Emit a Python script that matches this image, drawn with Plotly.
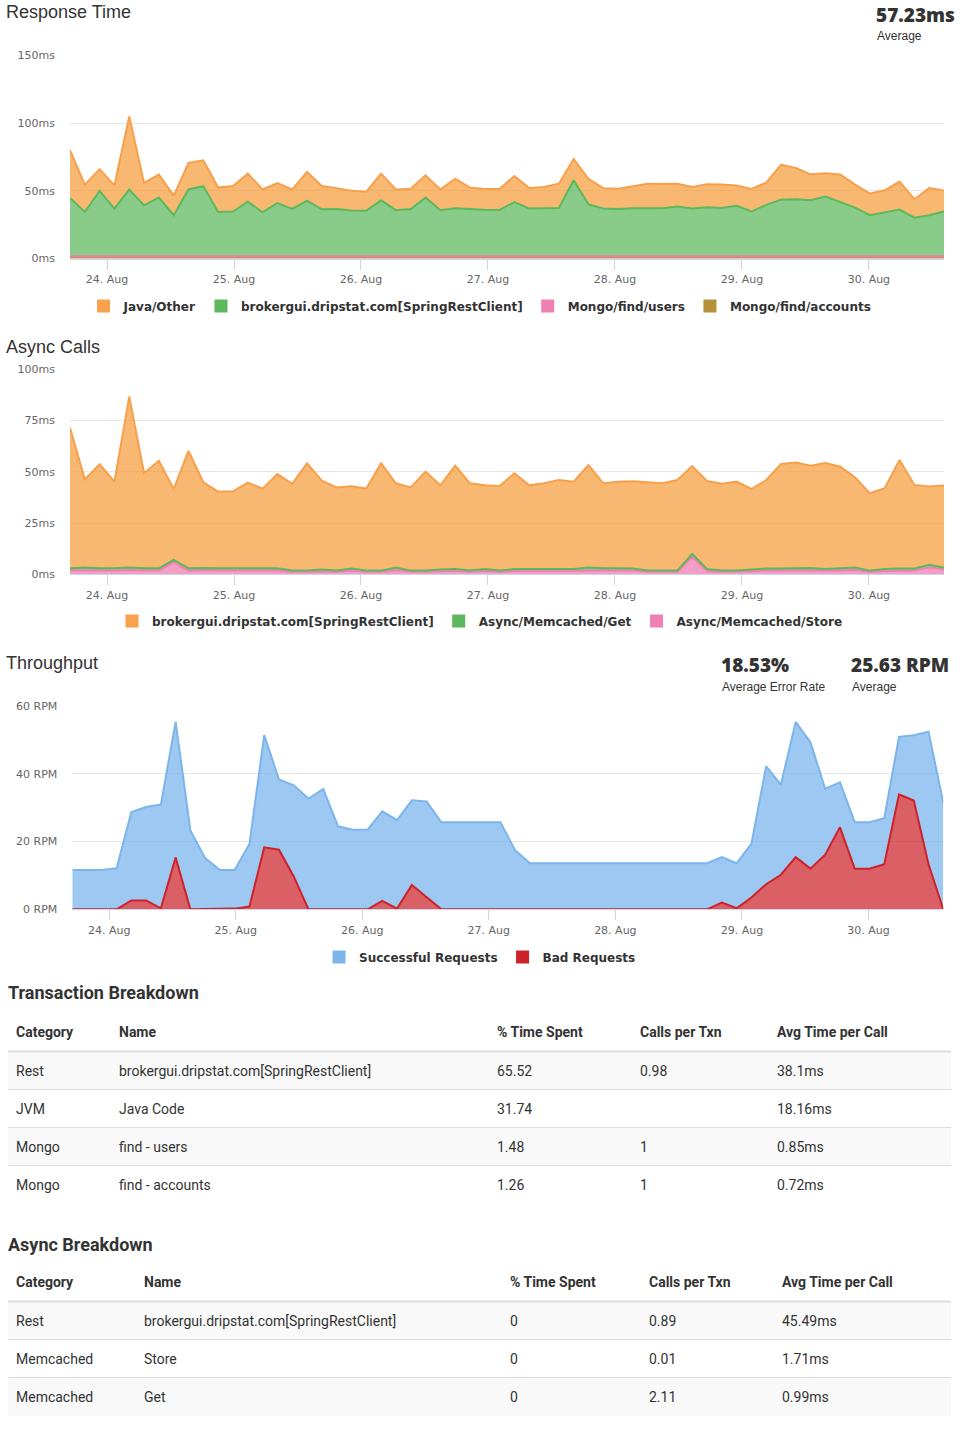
import pandas as pd
import plotly.graph_objects as go

# ---------------- data ----------------
times = pd.date_range("2017-08-23 17:00", periods=60, freq="168min")

# Response Time (ms) - stacked series
rt_java_other = [35.2, 20.2, 16.0, 17.1, 54.0, 16.5, 17.0, 14.5, 19.6, 19.1, 18.0, 18.9, 20.7, 16.8, 14.8,
                 14.4, 21.2, 17.2, 15.4, 14.6, 14.2, 19.7, 15.3, 15.0, 16.5, 15.3, 21.9, 16.0, 15.3, 15.5,
                 19.4, 15.1, 16.0, 17.9, 15.7, 18.8, 15.1, 15.0, 16.3, 18.2, 17.9, 16.9, 16.0, 16.9, 17.2,
                 15.1, 16.7, 16.4, 25.8, 23.1, 19.2, 17.3, 20.2, 17.0, 16.0, 16.5, 20.7, 13.6, 20.0, 15.5]
rt_broker = [43.2, 32.8, 48.4, 35.3, 49.4, 37.7, 43.4, 30.4, 49.4, 51.8, 32.8, 33.1, 40.4, 32.6, 39.4,
             35.0, 41.2, 34.8, 35.0, 33.8, 33.6, 41.4, 34.1, 35.0, 43.4, 34.1, 35.5, 34.8, 34.5, 34.3,
             40.0, 35.3, 35.3, 35.8, 56.2, 38.4, 35.3, 35.0, 35.5, 35.5, 35.5, 36.8, 35.3, 36.3, 35.8,
             37.3, 33.1, 38.0, 41.9, 42.2, 41.4, 44.1, 40.2, 36.0, 30.4, 32.3, 34.5, 28.6, 30.4, 33.1]
rt_mongo_users = [0.85] * 60
rt_mongo_accounts = [0.75] * 60

# Async Calls (ms) - stacked series
ac_broker = [68.6, 43.0, 50.8, 42.3, 83.4, 46.4, 52.5, 34.6, 57.3, 41.8, 37.4, 37.6, 41.8, 38.9, 46.0,
             42.3, 52.3, 43.3, 40.6, 40.1, 40.0, 52.3, 41.1, 40.6, 48.3, 41.0, 50.4, 42.6, 40.8, 41.3,
             46.7, 40.8, 41.8, 43.4, 42.6, 50.0, 41.5, 42.3, 42.6, 43.2, 42.6, 44.2, 42.9, 42.9, 42.4,
             43.4, 39.3, 43.2, 51.0, 51.4, 49.9, 51.7, 49.7, 43.9, 37.7, 39.4, 53.0, 40.8, 38.2, 40.0]
ac_get = [0.9, 1.2, 1.0, 1.0, 1.2, 1.0, 1.0, 1.1, 1.0, 1.1, 1.0, 1.0, 1.0, 1.0, 1.0,
          0.6, 0.6, 0.9, 0.6, 1.0, 0.6, 0.6, 1.2, 0.6, 0.6, 0.9, 0.9, 0.6, 0.9, 0.6,
          1.0, 1.0, 0.9, 0.9, 0.9, 1.2, 1.0, 1.0, 1.0, 0.6, 0.6, 0.6, 1.3, 1.0, 0.6,
          0.6, 0.8, 1.0, 1.0, 1.1, 1.1, 0.9, 1.0, 1.2, 0.6, 1.0, 1.0, 1.0, 1.2, 1.0]
ac_store = [2.0, 2.1, 1.9, 1.9, 2.1, 1.9, 1.9, 5.9, 1.9, 2.0, 1.9, 1.9, 1.9, 1.9, 1.9,
            1.2, 1.2, 1.5, 1.2, 1.8, 1.2, 1.2, 2.1, 1.2, 1.2, 1.5, 1.7, 1.2, 1.7, 1.2,
            1.6, 1.6, 1.7, 1.7, 1.7, 2.1, 1.9, 1.9, 1.8, 1.2, 1.2, 1.2, 8.6, 1.6, 1.2,
            1.2, 1.5, 1.8, 1.8, 2.0, 2.0, 1.7, 1.8, 2.1, 1.2, 1.6, 1.8, 1.8, 3.4, 2.3]

# Throughput (RPM) - stacked series
tp_successful = [11.6, 11.6, 11.6, 12.1, 26.1, 27.6, 30.6, 40.0, 23.3, 15.1, 11.6, 11.4, 18.5, 33.1, 20.7,
                 26.9, 32.7, 35.5, 24.5, 23.5, 23.5, 26.4, 26.1, 25.0, 28.3, 25.7, 25.7, 25.7, 25.7, 25.7,
                 17.4, 13.6, 13.6, 13.6, 13.6, 13.6, 13.6, 13.6, 13.6, 13.6, 13.6, 13.6, 13.6, 13.6, 13.4,
                 13.3, 15.8, 34.8, 26.6, 39.9, 37.3, 19.5, 13.3, 13.7, 13.7, 13.6, 17.0, 19.3, 39.1, 31.4]
tp_bad = [0, 0, 0, 0, 2.6, 2.6, 0.3, 15.3, 0, 0, 0, 0.2, 0.8, 18.3, 17.6,
          9.7, 0, 0, 0, 0, 0, 2.5, 0.2, 7.2, 3.5, 0, 0, 0, 0, 0,
          0, 0, 0, 0, 0, 0, 0, 0, 0, 0, 0, 0, 0, 0, 2.0,
          0.3, 3.5, 7.4, 10.2, 15.4, 12.0, 16.1, 24.2, 12.0, 12.0, 13.3, 33.9, 32.1, 13.3, 0]

# Tables
table_headers = ["Category", "Name", "% Time Spent", "Calls per Txn", "Avg Time per Call"]
tx_category = ["Rest", "JVM", "Mongo", "Mongo"]
tx_name = ["brokergui.dripstat.com[SpringRestClient]", "Java Code", "find - users", "find - accounts"]
tx_pct = ["65.52", "31.74", "1.48", "1.26"]
tx_calls = ["0.98", "", "1", "1"]
tx_avg = ["38.1ms", "18.16ms", "0.85ms", "0.72ms"]

as_category = ["Rest", "Memcached", "Memcached"]
as_name = ["brokergui.dripstat.com[SpringRestClient]", "Store", "Get"]
as_pct = ["0", "0", "0"]
as_calls = ["0.89", "0.01", "2.11"]
as_avg = ["45.49ms", "1.71ms", "0.99ms"]

# ---------------- layout helpers ----------------
W, H = 960, 1430


def X(px):
    return px / W


def Y(py):
    return 1 - py / H


TXT = "#333333"
TICK = "#666666"
GRID = "#e6e6e6"
AXIS = "#ccd6eb"

fig = go.Figure()


def area(x, y, color, fill, xa, ya, group, leg):
    fig.add_trace(go.Scatter(x=x, y=y, mode="lines", stackgroup=group,
                             line=dict(color=color, width=2), fillcolor=fill,
                             xaxis=xa, yaxis=ya, legend=leg, showlegend=False, hoverinfo="skip"))


def legend_item(name, color, xa, ya, leg, rank):
    fig.add_trace(go.Scatter(x=[None], y=[None], mode="markers", name=name,
                             marker=dict(symbol="square", size=13, color=color),
                             xaxis=xa, yaxis=ya, legend=leg, legendrank=rank, showlegend=True))


ORANGE_L, ORANGE_F = "#f7a04c", "rgba(246,156,60,0.72)"
GREEN_L, GREEN_F = "#5cb85c", "rgba(92,184,92,0.72)"
PINK_L, PINK_F = "#ee7fb2", "rgba(238,120,175,0.72)"
BROWN_L, BROWN_F = "#b58f35", "rgba(181,143,53,0.8)"
BLUE_L, BLUE_F = "#7cb5ec", "rgba(124,181,236,0.75)"
RED_L, RED_F = "#cc2229", "rgba(204,34,41,0.72)"

# Chart 1: Response Time (bottom-most first)
area(times, rt_mongo_accounts, BROWN_L, BROWN_F, "x", "y", "rt", "legend")
area(times, rt_mongo_users, PINK_L, PINK_F, "x", "y", "rt", "legend")
area(times, rt_broker, GREEN_L, GREEN_F, "x", "y", "rt", "legend")
area(times, rt_java_other, ORANGE_L, ORANGE_F, "x", "y", "rt", "legend")
legend_item("Java/Other", "#f8a24d", "x", "y", "legend", 1)
legend_item("brokergui.dripstat.com[SpringRestClient]", "#5cb85c", "x", "y", "legend", 2)
legend_item("Mongo/find/users", "#ef80b4", "x", "y", "legend", 3)
legend_item("Mongo/find/accounts", "#b5913a", "x", "y", "legend", 4)

# Chart 2: Async Calls
area(times, ac_store, PINK_L, PINK_F, "x2", "y2", "ac", "legend2")
area(times, ac_get, GREEN_L, GREEN_F, "x2", "y2", "ac", "legend2")
area(times, ac_broker, ORANGE_L, ORANGE_F, "x2", "y2", "ac", "legend2")
legend_item("brokergui.dripstat.com[SpringRestClient]", "#f8a24d", "x2", "y2", "legend2", 1)
legend_item("Async/Memcached/Get", "#5cb85c", "x2", "y2", "legend2", 2)
legend_item("Async/Memcached/Store", "#ef80b4", "x2", "y2", "legend2", 3)

# Chart 3: Throughput
area(times, tp_bad, RED_L, RED_F, "x3", "y3", "tp", "legend3")
area(times, tp_successful, BLUE_L, BLUE_F, "x3", "y3", "tp", "legend3")
legend_item("Successful Requests", "#7cb5ec", "x3", "y3", "legend3", 1)
legend_item("Bad Requests", "#cc2229", "x3", "y3", "legend3", 2)

xcommon = dict(type="date", range=[times[0], times[-1]], tickformat="%d. %b", dtick=86400000,
               tick0="2017-08-24", showgrid=False, showline=True, linecolor=AXIS, linewidth=1,
               ticks="outside", ticklen=10, tickcolor=AXIS, tickwidth=1, automargin=False,
               tickfont=dict(family="DejaVu Sans", size=11, color=TICK), zeroline=False,
               fixedrange=True)
ycommon = dict(showgrid=True, gridcolor=GRID, gridwidth=1, zeroline=False, showline=False,
               ticks="", ticklabelstandoff=14, automargin=False,
               tickfont=dict(family="DejaVu Sans", size=11, color=TICK), fixedrange=True)

legcommon = dict(orientation="h", xanchor="center", x=0.5, yanchor="middle", traceorder="normal",
                 font=dict(family="DejaVu Sans", size=12, color=TXT, weight="bold"),
                 bgcolor="rgba(0,0,0,0)", itemclick=False, itemdoubleclick=False)

fig.update_layout(
    width=W, height=H, margin=dict(l=0, r=0, t=0, b=0, autoexpand=False),
    paper_bgcolor="white", plot_bgcolor="white",
    xaxis=dict(domain=[X(70), X(944)], anchor="y", **xcommon),
    yaxis=dict(domain=[Y(258.5), Y(55.5)], anchor="x", range=[0, 150], dtick=50, ticksuffix="ms", **ycommon),
    xaxis2=dict(domain=[X(70), X(944)], anchor="y2", **xcommon),
    yaxis2=dict(domain=[Y(574.3), Y(369.3)], anchor="x2", range=[0, 100], dtick=25, ticksuffix="ms", **ycommon),
    xaxis3=dict(domain=[X(72.3), X(943.3)], anchor="y3", **xcommon),
    yaxis3=dict(domain=[Y(909.3), Y(706)], anchor="x3", range=[0, 60], dtick=20, ticksuffix=" RPM", **ycommon),
    legend=dict(y=Y(306), **legcommon),
    legend2=dict(y=Y(621), **legcommon),
    legend3=dict(y=Y(957), **legcommon),
)

DX = -2  # annotation box padding compensation


def text(px, py, s, size, family="Liberation Sans", color=TXT, weight="normal"):
    fig.add_annotation(x=X(px + DX), y=Y(py), xref="paper", yref="paper", text=s, showarrow=False,
                       xanchor="left", yanchor="middle",
                       font=dict(family=family, size=size, color=color, weight=weight))


# titles and stats
text(6, 12, "Response Time", 18)
text(876, 15, "57.23ms", 19, family="Open Sans", weight=800)
text(877, 36, "Average", 12)
text(6, 347, "Async Calls", 18)
text(6, 663, "Throughput", 18)
text(721, 665, "18.53%", 19, family="Open Sans", weight=800)
text(722, 687, "Average Error Rate", 12)
text(851, 665, "25.63 RPM", 19, family="Open Sans", weight=800)
text(852, 687, "Average", 12)


def draw_table(title, title_y, header_y, cols_x, columns, row_h=38):
    text(8, title_y, title, 18, family="Roboto", weight="bold")
    for cx, h in zip(cols_x, table_headers):
        text(cx, header_y, h, 14, family="Roboto", weight="bold")
    line_y = header_y + 19.5
    top = line_y + 0.5
    n = len(columns[0])
    for r in range(n):
        y0 = top + r * row_h
        if r % 2 == 0:
            fig.add_shape(type="rect", xref="paper", yref="paper", x0=X(8), x1=X(951),
                          y0=Y(y0), y1=Y(y0 + row_h), fillcolor="#f9f9f9", line_width=0, layer="below")
        if r > 0:
            fig.add_shape(type="line", xref="paper", yref="paper", x0=X(8), x1=X(951),
                          y0=Y(y0 - 0.5), y1=Y(y0 - 0.5), line=dict(color="#dddddd", width=1))
        for cx, col in zip(cols_x, columns):
            text(cx, y0 + row_h / 2, col[r], 14, family="Roboto")
    fig.add_shape(type="line", xref="paper", yref="paper", x0=X(8), x1=X(951),
                  y0=Y(line_y), y1=Y(line_y), line=dict(color="#dddddd", width=2))


draw_table("Transaction Breakdown", 993, 1032, [16, 119, 497, 640, 777],
           [tx_category, tx_name, tx_pct, tx_calls, tx_avg])
draw_table("Async Breakdown", 1244, 1282, [16, 144, 510, 649, 782],
           [as_category, as_name, as_pct, as_calls, as_avg])

fig.write_html("out.html")
